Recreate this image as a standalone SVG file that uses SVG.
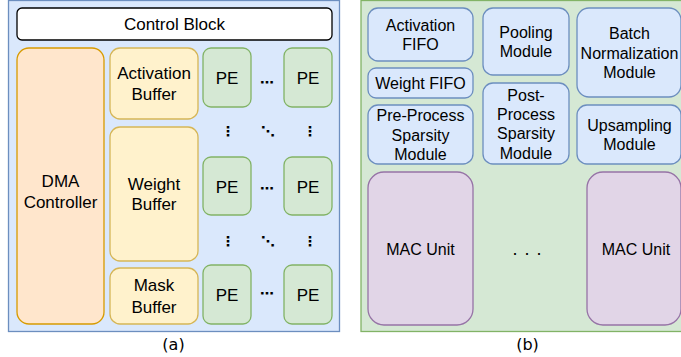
<svg xmlns="http://www.w3.org/2000/svg" width="681" height="357" viewBox="0 0 681 357">
<style>
text{font-family:"Liberation Sans",Arial,sans-serif;fill:#000;text-anchor:middle}
.a{font-size:17px}
.b{font-size:16px}
.cap{font-family:"DejaVu Sans",sans-serif;font-size:16px}
.dots{font-family:"DejaVu Sans",sans-serif;font-size:14px;font-weight:bold}
.blue{fill:#dae8fc;stroke:#6c8ebf;stroke-width:1.3}
.green{fill:#d5e8d4;stroke:#82b366;stroke-width:1.3}
.yellow{fill:#fff2cc;stroke:#d6b656;stroke-width:1.3}
.orange{fill:#ffe6cc;stroke:#d79b00;stroke-width:1.3}
.purple{fill:#e1d5e7;stroke:#9673a6;stroke-width:1.3}
.white{fill:#fff;stroke:#000;stroke-width:1.3}
</style>
<rect width="681" height="357" fill="#fff"/>
<g id="panel-a">
<rect class="blue" x="8.5" y="0.5" width="331" height="331"/>
</g>
<g id="control-block"><rect class="white" x="17" y="8" width="315" height="32" rx="5"/><text class="a" x="174.5" y="30">Control Block</text></g>
<g id="dma"><rect class="orange" x="17" y="48" width="87" height="276" rx="12"/><text class="a" x="60.5" y="187">DMA</text><text class="a" x="60.5" y="207.5">Controller</text></g>
<g id="act-buffer"><rect class="yellow" x="110" y="48" width="88" height="71" rx="10"/><text class="a" x="154" y="79">Activation</text><text class="a" x="154" y="99.5">Buffer</text></g>
<g id="weight-buffer"><rect class="yellow" x="110" y="127" width="88" height="134" rx="10"/><text class="a" x="154" y="189.5">Weight</text><text class="a" x="154" y="210">Buffer</text></g>
<g id="mask-buffer"><rect class="yellow" x="110" y="268" width="88" height="56" rx="10"/><text class="a" x="154" y="291">Mask</text><text class="a" x="154" y="312.5">Buffer</text></g>
<g id="pe-1-1"><rect class="green" x="203" y="48" width="48" height="59" rx="8"/><text class="a" x="227" y="84">PE</text></g>
<g id="pe-1-2"><rect class="green" x="284" y="48" width="48" height="59" rx="8"/><text class="a" x="308" y="84">PE</text></g>
<g id="pe-2-1"><rect class="green" x="203" y="157" width="48" height="58" rx="8"/><text class="a" x="227" y="192.5">PE</text></g>
<g id="pe-2-2"><rect class="green" x="284" y="157" width="48" height="58" rx="8"/><text class="a" x="308" y="192.5">PE</text></g>
<g id="pe-3-1"><rect class="green" x="203" y="265" width="48" height="59" rx="8"/><text class="a" x="227" y="301">PE</text></g>
<g id="pe-3-2"><rect class="green" x="284" y="265" width="48" height="59" rx="8"/><text class="a" x="308" y="301">PE</text></g>
<g id="dots-a">
<text class="dots" x="267" y="87">⋯</text>
<text class="dots" x="267" y="193">⋯</text>
<text class="dots" x="267" y="297.5">⋯</text>
<text class="dots" x="228" y="135.5">⋮</text>
<text class="dots" x="268" y="135.5">⋱</text>
<text class="dots" x="310" y="135.5">⋮</text>
<text class="dots" x="228" y="246">⋮</text>
<text class="dots" x="268" y="246">⋱</text>
<text class="dots" x="310" y="246">⋮</text>
</g>
<text class="cap" x="173.5" y="349.5">(a)</text>
<g id="panel-b">
<rect class="green" x="361" y="0.5" width="330" height="331"/>
</g>
<g id="act-fifo"><rect class="blue" x="368" y="8" width="105" height="53" rx="10"/><text class="b" x="420.5" y="30.5">Activation</text><text class="b" x="420.5" y="49.5">FIFO</text></g>
<g id="weight-fifo"><rect class="blue" x="368" y="68" width="105" height="30" rx="8"/><text class="b" x="420.5" y="88.5">Weight FIFO</text></g>
<g id="pre-process"><rect class="blue" x="368" y="105" width="105" height="59" rx="10"/><text class="b" x="420.5" y="121">Pre-Process</text><text class="b" x="420.5" y="140.5">Sparsity</text><text class="b" x="420.5" y="159.5">Module</text></g>
<g id="pooling"><rect class="blue" x="483" y="8" width="86" height="67" rx="10"/><text class="b" x="526" y="38">Pooling</text><text class="b" x="526" y="57">Module</text></g>
<g id="post-process"><rect class="blue" x="483" y="83" width="86" height="81" rx="10"/><text class="b" x="526" y="100.5">Post-</text><text class="b" x="526" y="119.5">Process</text><text class="b" x="526" y="139">Sparsity</text><text class="b" x="526" y="158.5">Module</text></g>
<g id="batch-norm"><rect class="blue" x="577" y="8" width="104" height="89" rx="12"/><text class="b" x="629.5" y="39">Batch</text><text class="b" x="629.5" y="58.5">Normalization</text><text class="b" x="629.5" y="77.5">Module</text></g>
<g id="upsampling"><rect class="blue" x="577" y="105" width="104" height="59" rx="10"/><text class="b" x="629.5" y="130.5">Upsampling</text><text class="b" x="629.5" y="149.5">Module</text></g>
<g id="mac-1"><rect class="purple" x="368" y="172" width="105" height="153" rx="16"/><text class="b" x="420.5" y="254.5">MAC Unit</text></g>
<g id="mac-2"><rect class="purple" x="587" y="172" width="94" height="153" rx="16"/><text class="b" x="636" y="254.5">MAC Unit</text></g>
<text x="530.5" y="255" style="font-size:18px;letter-spacing:7px">...</text>
<text class="cap" x="527.5" y="349.5">(b)</text>
</svg>
